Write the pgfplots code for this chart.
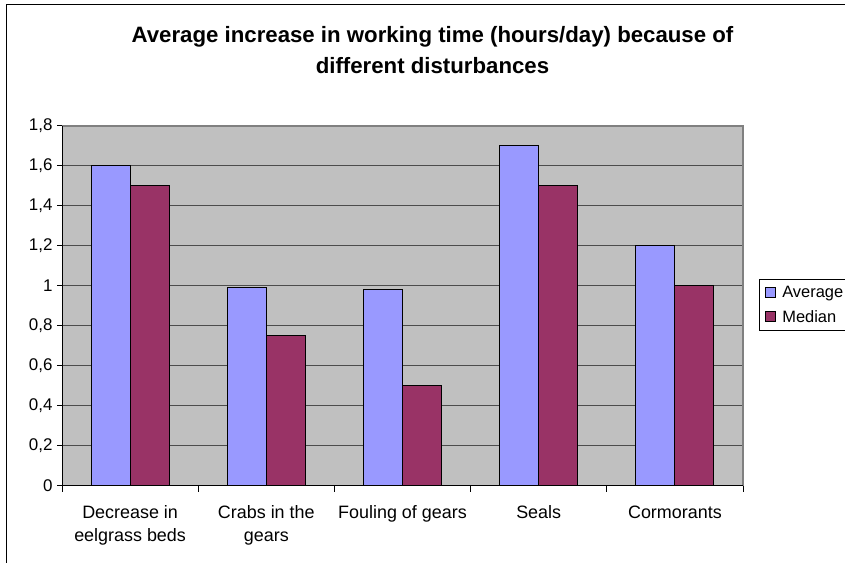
\documentclass[border=0pt]{standalone}
\usepackage{pgfplots}
\pgfplotsset{compat=1.18}
\usepackage{fontspec}
\setmainfont{Liberation Sans}

\definecolor{avgblue}{HTML}{9999FF}
\definecolor{medred}{HTML}{993366}
\definecolor{plotgray}{HTML}{C0C0C0}
\definecolor{bordergray}{HTML}{808080}

\begin{document}
\begin{tikzpicture}[x=1bp,y=1bp]
  % page frame
  \useasboundingbox (0,0) rectangle (845,563);
  \draw[black,line width=1bp] (6,0) -- (6,558) -- (860,558);

  % title
  \node[anchor=base,font=\fontsize{22.3}{26}\selectfont\bfseries]
    at (432.5,520) {Average increase in working time (hours/day) because of};
  \node[anchor=base,font=\fontsize{22.3}{26}\selectfont\bfseries]
    at (432.5,489) {different disturbances};

  \begin{axis}[
    at={(62bp,77bp)}, anchor=south west,
    scale only axis, width=681bp, height=360bp,
    xmin=-0.5, xmax=4.5, ymin=0, ymax=1.8,
    axis lines*=left,
    axis line style={black,line width=1bp},
    axis background/.style={fill=plotgray},
    tick align=outside,
    major tick length=5bp,
    minor tick length=6bp,
    ytick={0,0.2,0.4,0.6,0.8,1,1.2,1.4,1.6,1.8},
    ymajorgrids,
    major grid style={black!70,line width=1bp},
    xtick={0,1,2,3,4},
    major x tick style={draw=none},
    minor xtick={-0.5,0.5,1.5,2.5,3.5,4.5},
    tick style={black,line width=1bp},
    xticklabels={{Decrease in\\eelgrass beds},{Crabs in the\\gears},{Fouling of gears},{Seals},{Cormorants}},
    xticklabel style={align=center,anchor=north,yshift=-11bp,
      font=\fontsize{18}{23}\selectfont},
    yticklabel style={font=\fontsize{17}{20}\selectfont,xshift=-1bp},
    /pgf/number format/use comma,
    /pgf/number format/assume math mode=true,
    ybar=0pt, bar width=0.286,
    legend style={at={(1.0235,0.575)},anchor=north west,
      draw=black,line width=0.8bp,fill=white,
      font=\fontsize{16.5}{20}\selectfont,
      inner xsep=6bp,inner ysep=5bp,row sep=7bp,
      legend cell align=left},
    legend image code/.code={
      \draw[#1,draw=black,line width=0.8bp] (0bp,-5bp) rectangle (10bp,5bp);
      \path (14bp,0bp);},
    after end axis/.code={
      \draw[bordergray,line width=1.3bp] (rel axis cs:0,1) -- (rel axis cs:1,1) -- (rel axis cs:1,0);
      \draw[black,line width=1bp] (rel axis cs:0,0) -- (rel axis cs:0,1);
      \draw[black,line width=1bp] (rel axis cs:0,0) -- (rel axis cs:1,0);
    },
  ]
    \addplot[fill=avgblue,draw=black,line width=1bp]
      coordinates {(0,1.6) (1,0.99) (2,0.98) (3,1.7) (4,1.2)};
    \addplot[fill=medred,draw=black,line width=1bp]
      coordinates {(0,1.5) (1,0.75) (2,0.5) (3,1.5) (4,1.0)};
    \legend{Average,Median}
  \end{axis}
\end{tikzpicture}
\end{document}
